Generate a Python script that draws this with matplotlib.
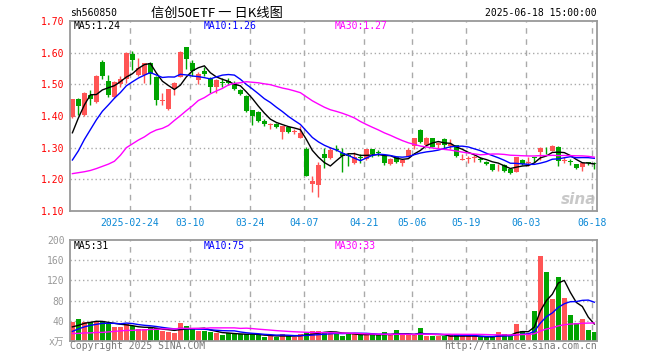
import numpy as np
import pandas as pd
import matplotlib
matplotlib.use("Agg")
import matplotlib.pyplot as plt

plt.rcParams['font.family'] = ['DejaVu Sans Mono', 'Noto Sans CJK SC']

# 交易日 (去掉节假日)
holidays = pd.to_datetime(['2025-04-04', '2025-05-01', '2025-05-02', '2025-05-05', '2025-06-02'])
dates = [d for d in pd.bdate_range('2025-02-10', '2025-06-18') if d not in holidays]

opens = [1.397, 1.454, 1.404, 1.466, 1.443, 1.572, 1.510, 1.461, 1.500, 1.518,
         1.595, 1.529, 1.531, 1.568, 1.523, 1.447, 1.422, 1.484, 1.524, 1.617,
         1.567, 1.514, 1.543, 1.516, 1.493, 1.508, 1.511, 1.505, 1.482, 1.464,
         1.418, 1.414, 1.385, 1.372, 1.376, 1.351, 1.366, 1.351, 1.331, 1.295,
         1.186, 1.183, 1.279, 1.267, 1.296, 1.284, 1.277, 1.253, 1.272, 1.264,
         1.295, 1.285, 1.277, 1.247, 1.269, 1.253, 1.272, 1.305, 1.357, 1.310,
         1.329, 1.307, 1.328, 1.305, 1.308, 1.262, 1.265, 1.268, 1.265, 1.255,
         1.248, 1.244, 1.245, 1.234, 1.224, 1.261, 1.252, 1.270, 1.286, 1.300,
         1.290, 1.303, 1.259, 1.256, 1.248, 1.238, 1.254, 1.250]
highs = [1.455, 1.456, 1.476, 1.481, 1.528, 1.578, 1.528, 1.509, 1.526, 1.601,
         1.605, 1.582, 1.568, 1.570, 1.525, 1.472, 1.486, 1.508, 1.604, 1.619,
         1.578, 1.540, 1.555, 1.524, 1.516, 1.519, 1.519, 1.510, 1.485, 1.467,
         1.420, 1.416, 1.391, 1.378, 1.378, 1.370, 1.368, 1.359, 1.368, 1.303,
         1.211, 1.255, 1.300, 1.303, 1.309, 1.300, 1.284, 1.286, 1.279, 1.297,
         1.297, 1.293, 1.279, 1.266, 1.271, 1.263, 1.300, 1.331, 1.359, 1.333,
         1.331, 1.319, 1.331, 1.326, 1.310, 1.279, 1.274, 1.276, 1.269, 1.257,
         1.250, 1.248, 1.247, 1.236, 1.271, 1.263, 1.269, 1.272, 1.303, 1.303,
         1.307, 1.305, 1.269, 1.264, 1.250, 1.255, 1.255, 1.255]
lows = [1.393, 1.404, 1.399, 1.434, 1.441, 1.516, 1.459, 1.458, 1.491, 1.503,
        1.545, 1.527, 1.503, 1.501, 1.434, 1.434, 1.420, 1.467, 1.522, 1.550,
        1.526, 1.501, 1.527, 1.474, 1.472, 1.493, 1.498, 1.482, 1.466, 1.414,
        1.371, 1.380, 1.370, 1.360, 1.362, 1.326, 1.345, 1.342, 1.329, 1.209,
        1.161, 1.144, 1.237, 1.265, 1.290, 1.222, 1.241, 1.248, 1.251, 1.262,
        1.271, 1.274, 1.246, 1.245, 1.251, 1.241, 1.270, 1.295, 1.316, 1.305,
        1.301, 1.300, 1.300, 1.295, 1.271, 1.261, 1.251, 1.255, 1.255, 1.245,
        1.226, 1.227, 1.224, 1.216, 1.222, 1.246, 1.243, 1.255, 1.261, 1.279,
        1.288, 1.241, 1.253, 1.245, 1.232, 1.227, 1.245, 1.234]
closes = [1.453, 1.433, 1.474, 1.453, 1.526, 1.526, 1.467, 1.507, 1.516, 1.599,
          1.578, 1.552, 1.566, 1.534, 1.449, 1.449, 1.484, 1.503, 1.602, 1.580,
          1.543, 1.534, 1.533, 1.493, 1.514, 1.505, 1.503, 1.485, 1.470, 1.417,
          1.401, 1.383, 1.375, 1.374, 1.365, 1.368, 1.351, 1.353, 1.347, 1.211,
          1.195, 1.245, 1.267, 1.293, 1.294, 1.274, 1.275, 1.269, 1.266, 1.295,
          1.279, 1.283, 1.253, 1.264, 1.255, 1.261, 1.293, 1.329, 1.318, 1.331,
          1.303, 1.316, 1.307, 1.312, 1.274, 1.265, 1.267, 1.270, 1.262, 1.248,
          1.230, 1.246, 1.227, 1.220, 1.269, 1.248, 1.254, 1.268, 1.300, 1.298,
          1.305, 1.258, 1.261, 1.254, 1.236, 1.253, 1.252, 1.248]
volumes = [38, 44, 37, 37, 39, 37, 34, 28, 28, 33,
           29, 23, 23, 27, 25, 19, 18, 16, 35, 29,
           24, 19, 20, 17, 16, 11, 15, 15, 13, 13,
           13, 11, 8, 10, 8, 13, 10, 8, 13, 17,
           19, 19, 18, 18, 15, 9, 15, 13, 11, 15,
           11, 11, 17, 11, 21, 11, 11, 11, 25, 10,
           9, 9, 9, 11, 11, 9, 9, 9, 8, 7,
           8, 17, 13, 11, 33, 19, 16, 59, 169, 136,
           83, 127, 85, 51, 36, 43, 21, 17]

# 均线起始段 (图中读取, 之前的数据不在图内)
ma5_head = [1.347, 1.394, 1.435, 1.467]
ma10_head = [1.261, 1.290, 1.326, 1.357, 1.388, 1.415, 1.435, 1.456, 1.474]
ma30_head = [1.218, 1.221, 1.224, 1.228, 1.234, 1.241, 1.248, 1.257, 1.276, 1.300,
             1.312, 1.324, 1.334, 1.347, 1.356, 1.361, 1.370, 1.386, 1.401, 1.417,
             1.432, 1.449, 1.458, 1.470, 1.479, 1.487, 1.498, 1.503, 1.505]
vma5_head = [28, 31, 35, 37]
vma10_head = [19, 24, 28, 31, 33, 35, 35, 35, 34]
vma30_head = [15, 15, 16, 16, 17, 17, 18, 19, 20, 21, 21, 22, 22, 23, 23,
              24, 24, 24, 25, 25, 25, 25, 25, 26, 26, 26, 26, 26, 25]

tick_dates = ['2025-02-24', '2025-03-10', '2025-03-24', '2025-04-07', '2025-04-21',
              '2025-05-06', '2025-05-19', '2025-06-03', '2025-06-18']
tick_labels = ['2025-02-24', '03-10', '03-24', '04-07', '04-21', '05-06', '05-19', '06-03', '06-18']


def moving(values, n, head):
    s = pd.Series(values, dtype=float).rolling(n).mean().to_numpy()
    s[:len(head)] = head
    return s


W, H = 660, 360
RED, GREEN = '#ff5555', '#00a400'
GRID = '#aaaaaa'


def box(l, t, r, b):
    return [l / W, 1 - b / H, (r - l) / W, (b - t) / H]


o = np.array(opens)
c = np.array(closes)
x = np.arange(len(dates))
colors = [RED if cc >= oo else GREEN for oo, cc in zip(o, c)]
tick_idx = [dates.index(pd.Timestamp(d)) for d in tick_dates]

fig = plt.figure(figsize=(6.6, 3.6), dpi=100)
ax = fig.add_axes(box(70, 21, 597, 211))
axv = fig.add_axes(box(70, 240, 597, 341))

# K线
ax.vlines(x, lows, highs, color=colors, lw=1)
ax.bar(x, np.maximum(np.abs(c - o), 0.0025), bottom=np.minimum(o, c), width=0.8,
       color=colors, linewidth=0)
ax.plot(x, moving(closes, 5, ma5_head), color='black', lw=1)
ax.plot(x, moving(closes, 10, ma10_head), color='blue', lw=1)
ax.plot(x, moving(closes, 30, ma30_head), color='#ff00ff', lw=1)

# 成交量
axv.bar(x, volumes, width=0.8, color=colors, linewidth=0)
axv.plot(x, moving(volumes, 5, vma5_head), color='black', lw=1)
axv.plot(x, moving(volumes, 10, vma10_head), color='blue', lw=1)
axv.plot(x, moving(volumes, 30, vma30_head), color='#ff00ff', lw=1)

for a in (ax, axv):
    a.set_xlim(-0.4, 87.45)
    for i in tick_idx:
        a.axvline(i - 0.4, color=GRID, ls=(0, (4, 4)), lw=1, zorder=0)
    for s in a.spines.values():
        s.set_color('#999999')
        s.set_linewidth(1.3)
    a.tick_params(length=0, labelsize=7)

ax.set_ylim(1.10, 1.70)
prices = [1.10, 1.20, 1.30, 1.40, 1.50, 1.60, 1.70]
ax.set_yticks(prices)
ax.set_yticklabels(['%.2f' % p for p in prices], color='red')
for p in prices[1:-1]:
    ax.axhline(p, color=GRID, ls=(0, (1, 2)), lw=1, zorder=0)
ax.set_xticks([i - 0.4 for i in tick_idx])
ax.set_xticklabels(tick_labels, color='#0a88d6')
ax.tick_params(axis='x', pad=5)
ax.tick_params(axis='y', pad=4)

axv.set_ylim(0, 200)
vticks = [0, 40, 80, 120, 160, 200]
axv.set_yticks(vticks)
axv.set_yticklabels(['x万'] + [str(v) for v in vticks[1:]], color='#999999')
for v in vticks[1:-1]:
    axv.axhline(v, color=GRID, ls=(0, (1, 2)), lw=1, zorder=0)
axv.set_xticks([])
axv.tick_params(axis='y', pad=4)


def txt(px, py, s, **kw):
    fig.text(px / W, 1 - py / H, s, va='center', fontsize=7, **kw)


txt(70, 13, 'sh560850')
fig.text(217 / W, 1 - 13 / H, '信创50ETF 一 日K线图', ha='center', va='center',
         fontsize=9.5, family=['Noto Sans CJK SC', 'DejaVu Sans'])
txt(597, 13, '2025-06-18 15:00:00', ha='right')
txt(74, 26, 'MA5:1.24', color='black')
txt(204, 26, 'MA10:1.26', color='blue')
txt(335, 26, 'MA30:1.27', color='#ff00ff')
txt(74, 246, 'MA5:31', color='black')
txt(204, 246, 'MA10:75', color='blue')
txt(335, 246, 'MA30:33', color='#ff00ff')
txt(70, 346, 'Copyright 2025 SINA.COM', color='#777777')
txt(597, 346, 'http://finance.sina.com.cn', ha='right', color='#777777')
fig.text(596 / W, 1 - 199 / H, 'sina', ha='right', va='center', fontsize=11,
         style='italic', weight='bold', color='#bbbbbb', alpha=0.8,
         family='DejaVu Sans')

fig.savefig('out.png', dpi=100)
